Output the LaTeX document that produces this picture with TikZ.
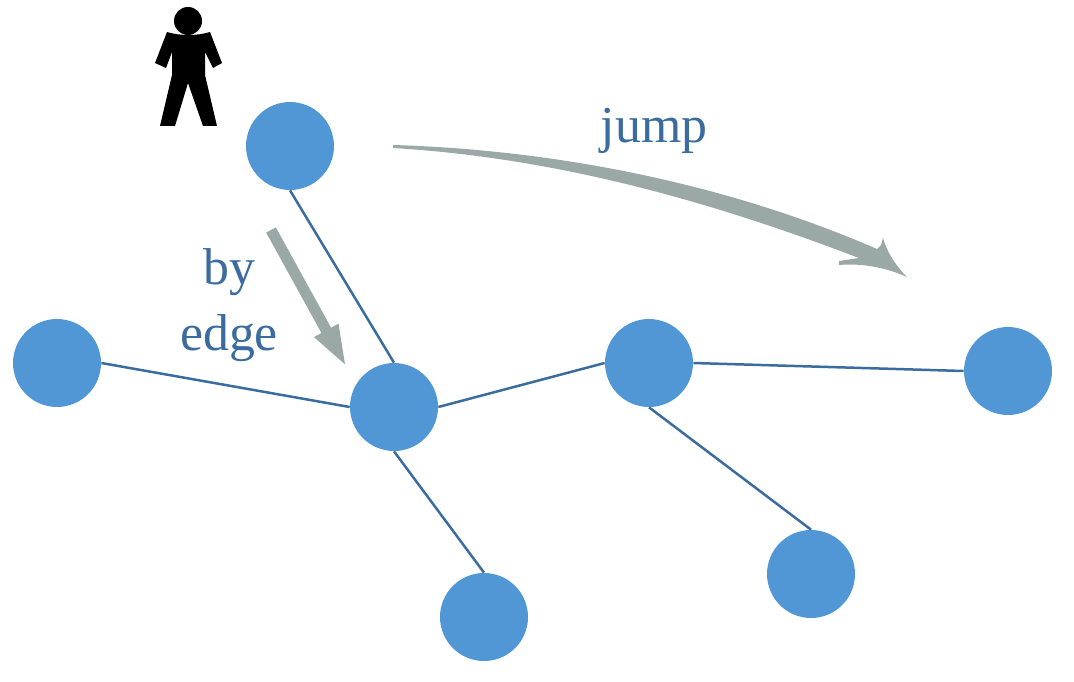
\documentclass[tikz,border=0pt]{standalone}
\usepackage{fontspec}
\setmainfont{Liberation Serif}
\usetikzlibrary{arrows.meta}
\definecolor{vertexblue}{HTML}{5197D6}
\definecolor{edgeblue}{HTML}{3B6CA0}
\definecolor{movegrey}{HTML}{9AA9A6}
\tikzset{
vertex/.style={circle,fill=vertexblue,minimum size=1.76cm,inner sep=0pt},
edgeline/.style={draw=edgeblue,line width=0.05cm},
movetext/.style={text=edgeblue,font=\fontsize{29.5}{38}\selectfont,align=center,inner sep=0pt}
}
\begin{document}
\begin{tikzpicture}[x=0.02cm,y=-0.02cm]
\useasboundingbox (0,0) rectangle (1074,682);
\node[vertex] (start) at (290,146) {};
\node[vertex] (left) at (57,363) {};
\node[vertex] (mid) at (394,407) {};
\node[vertex] (right) at (649,363) {};
\node[vertex] (far) at (1008,371) {};
\node[vertex] (low) at (484,617) {};
\node[vertex] (lowright) at (811,574) {};
\draw[edgeline] (start.south) -- (mid.north);
\draw[edgeline] (left.east) -- (mid.west);
\draw[edgeline] (mid.east) -- (right.west);
\draw[edgeline] (right.east) -- (far.west);
\draw[edgeline] (mid.south) -- (low.north);
\draw[edgeline] (right.south) -- (lowright.north);
\node[movetext] (jumplabel) at (654,131) {jump};
\node[movetext] (bylabel) at (229,305) {by\\edge};
\coordinate (bytail) at (271,230);
\coordinate (byhead) at (347,368);
\draw[movegrey,line width=0.22cm,-{Triangle[length=0.86cm,width=0.48cm]}] (bytail) -- (byhead);
\fill[movegrey] (393,145) .. controls (560,150) and (730,185) .. (877,249)
  -- (881,245) -- (883,238) .. controls (888,255) and (898,268) .. (907,277)
  .. controls (885,267) and (860,263) .. (839,265) -- (839,261) -- (859,258)
  .. controls (715,203) and (560,158) .. (393,148) -- cycle;%tapered jump
\fill[black] (188,21) circle (14);%person
\fill[black] (167,32) .. controls (180,36) and (197,36) .. (210,32) -- (222,63) -- (213,68)
  -- (205,52) -- (205,75) -- (217,126) -- (203,126) -- (188,83) -- (175,126) -- (160,126)
  -- (172,75) -- (172,52) -- (166,68) -- (155,63) -- cycle;
\end{tikzpicture}
\end{document}
